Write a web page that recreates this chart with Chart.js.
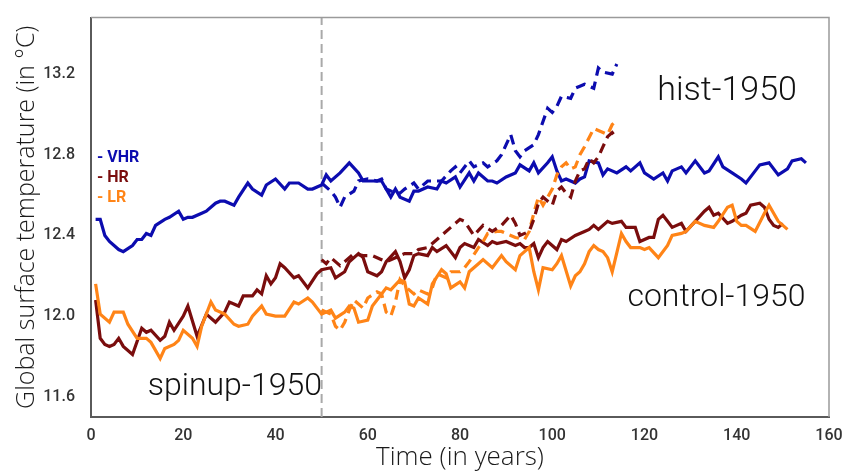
<!DOCTYPE html>
<html>
<head>
<meta charset="utf-8">
<script src="https://cdn.jsdelivr.net/npm/chart.js@4.4.1/dist/chart.umd.min.js"></script>
<style>
html,body{margin:0;padding:0;background:#fff}
</style>
</head>
<body>
<canvas id="chart" width="844" height="473"></canvas>
<script>
// control runs (solid)
const vhrCtrlYears=[1,2,3,4,6,7,9,10,11,12,13,14,16,17,19,20,21,22,24,25,27,28,29,31,32,34,35,37,38,40,42,43,45,47,48,50,51,52,54,56,58,59,61,63,65,66,67,69,70,71,73,75,76,77,79,80,82,83,84,86,87,88,90,92,93,95,96,97,99,100,101,102,103,105,106,107,108,110,111,112,114,116,117,119,120,122,124,125,126,128,129,130,131,133,134,136,137,139,141,142,144,145,147,149,151,152,154,155]
const vhrCtrlTemps=[12.48,12.48,12.40,12.37,12.33,12.32,12.35,12.38,12.38,12.41,12.40,12.45,12.48,12.49,12.52,12.48,12.49,12.49,12.51,12.52,12.56,12.57,12.57,12.55,12.59,12.66,12.63,12.60,12.65,12.68,12.63,12.66,12.66,12.63,12.63,12.65,12.70,12.67,12.71,12.76,12.71,12.67,12.67,12.67,12.59,12.63,12.59,12.57,12.62,12.62,12.64,12.63,12.67,12.66,12.69,12.64,12.71,12.67,12.71,12.67,12.67,12.66,12.69,12.71,12.75,12.72,12.76,12.71,12.76,12.79,12.72,12.67,12.68,12.66,12.68,12.69,12.77,12.76,12.70,12.73,12.71,12.74,12.72,12.76,12.71,12.68,12.71,12.67,12.72,12.74,12.71,12.74,12.77,12.71,12.72,12.79,12.74,12.71,12.68,12.66,12.72,12.75,12.76,12.70,12.73,12.77,12.78,12.76]

const hrCtrlYears=[1,2,3,4,5,6,7,9,11,12,13,15,16,17,18,20,21,23,25,27,29,30,32,33,35,36,37,38,39,40,41,42,44,45,47,49,50,52,53,55,56,58,59,60,62,63,64,66,67,68,69,70,71,73,74,75,77,79,80,81,83,84,86,87,88,90,92,93,94,95,96,97,98,99,101,102,103,105,107,108,109,110,112,113,115,116,118,119,121,122,123,124,125,126,128,129,131,133,134,135,136,138,139,141,142,143,145,146,147,148,149,150]
const hrCtrlTemps=[12.08,11.89,11.86,11.85,11.86,11.89,11.85,11.81,11.94,11.92,11.93,11.88,11.90,11.97,11.93,12.00,12.05,11.90,12.01,11.97,12.02,12.07,12.05,12.10,12.10,12.13,12.11,12.20,12.16,12.19,12.26,12.24,12.19,12.20,12.14,12.21,12.23,12.24,12.19,12.22,12.27,12.31,12.29,12.22,12.20,12.22,12.27,12.32,12.27,12.19,12.23,12.30,12.31,12.30,12.34,12.32,12.35,12.29,12.34,12.36,12.34,12.38,12.35,12.37,12.36,12.37,12.35,12.36,12.34,12.34,12.36,12.29,12.34,12.37,12.33,12.38,12.37,12.40,12.42,12.43,12.45,12.43,12.47,12.46,12.47,12.44,12.44,12.37,12.39,12.39,12.48,12.50,12.47,12.44,12.46,12.42,12.47,12.52,12.54,12.50,12.51,12.46,12.47,12.50,12.51,12.55,12.56,12.54,12.48,12.45,12.44,12.46]

const lrCtrlYears=[1,2,4,5,7,8,10,12,13,15,16,18,19,20,22,23,24,26,27,29,31,32,34,35,37,38,40,42,44,45,47,48,50,51,52,53,55,56,57,58,60,61,63,64,65,67,68,69,70,71,73,74,76,77,78,80,81,82,84,85,87,89,90,92,93,95,96,97,98,100,101,102,104,105,106,107,108,109,110,111,112,113,115,116,117,119,120,121,123,125,126,128,129,131,133,135,136,138,139,140,141,142,144,146,147,148,149,151]
const lrCtrlTemps=[12.16,12.01,11.97,12.02,12.02,11.96,11.89,11.89,11.87,11.79,11.84,11.86,11.88,11.93,11.89,11.85,11.95,12.07,12.03,12.01,11.96,11.95,11.96,12.00,12.05,12.01,12.00,12.00,12.07,12.06,12.09,12.07,12.01,12.02,12.03,11.99,12.02,12.05,12.04,11.97,11.98,12.05,12.11,12.14,12.13,12.18,12.17,12.06,12.05,12.09,12.06,12.16,12.23,12.21,12.14,12.17,12.14,12.22,12.26,12.28,12.24,12.30,12.27,12.23,12.30,12.34,12.22,12.13,12.24,12.23,12.26,12.30,12.15,12.20,12.22,12.26,12.32,12.35,12.33,12.32,12.29,12.22,12.41,12.37,12.34,12.34,12.33,12.34,12.29,12.35,12.40,12.41,12.42,12.47,12.45,12.44,12.47,12.54,12.55,12.47,12.45,12.45,12.42,12.51,12.55,12.51,12.47,12.43]

// hist runs (dashed), branching at year 50
const vhrHistYears=[50,52,53,54,55,57,58,60,62,63,64,65,67,68,70,71,73,75,76,78,79,80,82,83,85,86,88,89,91,92,93,94,96,97,99,100,101,102,104,105,106,107,109,110,111,113,114]
const vhrHistTemps=[12.66,12.62,12.59,12.54,12.59,12.62,12.67,12.68,12.67,12.68,12.63,12.62,12.61,12.63,12.66,12.63,12.67,12.67,12.67,12.72,12.74,12.71,12.77,12.74,12.76,12.74,12.77,12.80,12.90,12.82,12.79,12.82,12.85,12.90,13.03,13.01,13.04,13.09,13.08,13.13,13.14,13.15,13.13,13.23,13.21,13.20,13.25]

const hrHistYears=[50,51,52,54,55,57,59,60,61,63,64,65,67,68,70,71,73,74,76,78,80,81,83,85,87,89,91,92,93,95,96,97,98,100,101,102,103,104,105,106,107,108,109,110,111,112,113,114]
const hrHistTemps=[12.28,12.26,12.29,12.25,12.27,12.31,12.30,12.30,12.30,12.28,12.27,12.28,12.30,12.31,12.31,12.33,12.34,12.36,12.40,12.44,12.48,12.47,12.40,12.45,12.42,12.45,12.50,12.46,12.40,12.42,12.48,12.56,12.59,12.55,12.62,12.64,12.61,12.59,12.67,12.72,12.73,12.78,12.76,12.79,12.84,12.89,12.91,12.88]

const lrHistYears=[50,52,53,54,55,56,57,59,60,62,63,64,65,66,67,68,70,71,73,74,75,77,78,80,81,82,84,85,86,88,89,91,92,94,95,96,97,98,99,100,101,102,103,104,105,106,107,109,110,112,113,114]
const lrHistTemps=[12.03,12.01,11.95,11.93,11.97,12.03,12.08,12.04,12.09,12.12,12.11,12.02,12.00,12.07,12.18,12.15,12.11,12.13,12.11,12.14,12.21,12.19,12.22,12.22,12.24,12.27,12.34,12.37,12.41,12.42,12.42,12.40,12.39,12.38,12.42,12.51,12.59,12.55,12.59,12.63,12.70,12.74,12.76,12.73,12.74,12.80,12.84,12.93,12.92,12.90,12.95,12.97]

const spinupEnd=50
const xTicks=[0,20,40,60,80,100,120,140,160]
const yTicks=[11.6,12.0,12.4,12.8,13.2]
const legendNames=["VHR","HR","LR"]
const colors={VHR:"#0c0caf",HR:"#7a0d0d",LR:"#ff8417"}

const pts=(xs,ys)=>xs.map((x,i)=>({x:x,y:ys[i]}))

const overlay={
id:"overlay",
afterDatasetsDraw(chart){
const {ctx,chartArea:a,scales:{x,y}}=chart
ctx.save()
// light frame top + right
ctx.strokeStyle="#9a9a9a"
ctx.lineWidth=1.5
ctx.beginPath()
ctx.moveTo(a.left,a.top)
ctx.lineTo(a.right,a.top)
ctx.lineTo(a.right,a.bottom)
ctx.stroke()
// legend
ctx.font="bold 16px Roboto"
ctx.textAlign="left"
ctx.textBaseline="middle"
legendNames.forEach((n,i)=>{
ctx.fillStyle=colors[n]
ctx.fillText("- "+n,a.left+6,a.top+140+i*20)
})
// run labels
ctx.fillStyle="#111"
ctx.textAlign="center"
ctx.textBaseline="alphabetic"
ctx.font="300 34px Roboto"
ctx.fillText("hist-1950",x.getPixelForValue(137.9),y.getPixelForValue(13.07))
ctx.font="300 32px Roboto"
ctx.fillText("control-1950",x.getPixelForValue(135.6),y.getPixelForValue(12.05))
ctx.fillText("spinup-1950",x.getPixelForValue(31.2),y.getPixelForValue(11.61))
ctx.restore()
}
}

const line=(label,data,color,dashed)=>({
label:label,
data:data,
borderColor:color,
borderWidth:3.2,
borderDash:dashed?[10,6]:[],
pointRadius:0,
tension:0,
fill:false
})

new Chart(document.getElementById("chart"),{
type:"line",
data:{
datasets:[
line("VHR hist",pts(vhrHistYears,vhrHistTemps),colors.VHR,true),
line("HR hist",pts(hrHistYears,hrHistTemps),colors.HR,true),
line("LR hist",pts(lrHistYears,lrHistTemps),colors.LR,true),
line("VHR",pts(vhrCtrlYears,vhrCtrlTemps),colors.VHR,false),
line("LR",pts(lrCtrlYears,lrCtrlTemps),colors.LR,false),
line("HR",pts(hrCtrlYears,hrCtrlTemps),colors.HR,false),
{
label:"spinup end",
data:[{x:spinupEnd,y:11.5},{x:spinupEnd,y:13.48}],
borderColor:"#a9a9a9",
borderWidth:2,
borderDash:[9,5],
pointRadius:0
}
]
},
options:{
responsive:false,
animation:false,
layout:{padding:{left:0,right:15,top:7,bottom:0}},
plugins:{legend:{display:false},tooltip:{enabled:false}},
scales:{
x:{
type:"linear",
min:0,max:160,
afterBuildTicks:s=>{s.ticks=xTicks.map(v=>({value:v}))},
afterFit:s=>{s.height=56},
grid:{display:false},
border:{display:true,color:"#5a5a5a",width:2},
ticks:{color:"#333",font:{family:"Roboto",size:16,weight:"500"},padding:1,maxRotation:0},
title:{display:true,text:"Time (in years)",color:"#1a1a1a",font:{family:"Open Sans",size:26,weight:"300"},padding:{top:0,bottom:0}}
},
y:{
min:11.5,max:13.48,
afterBuildTicks:s=>{s.ticks=yTicks.map(v=>({value:v}))},
afterFit:s=>{s.width=91},
grid:{display:false},
border:{display:true,color:"#5a5a5a",width:2},
ticks:{color:"#333",font:{family:"Roboto",size:16,weight:"500"},padding:8,callback:v=>v.toFixed(1)},
title:{display:true,text:"Global surface temperature (in °C)",color:"#1a1a1a",font:{family:"Open Sans",size:25,weight:"300"},padding:{top:12,bottom:0}}
}
}
},
plugins:[overlay]
})
</script>
</body>
</html>
